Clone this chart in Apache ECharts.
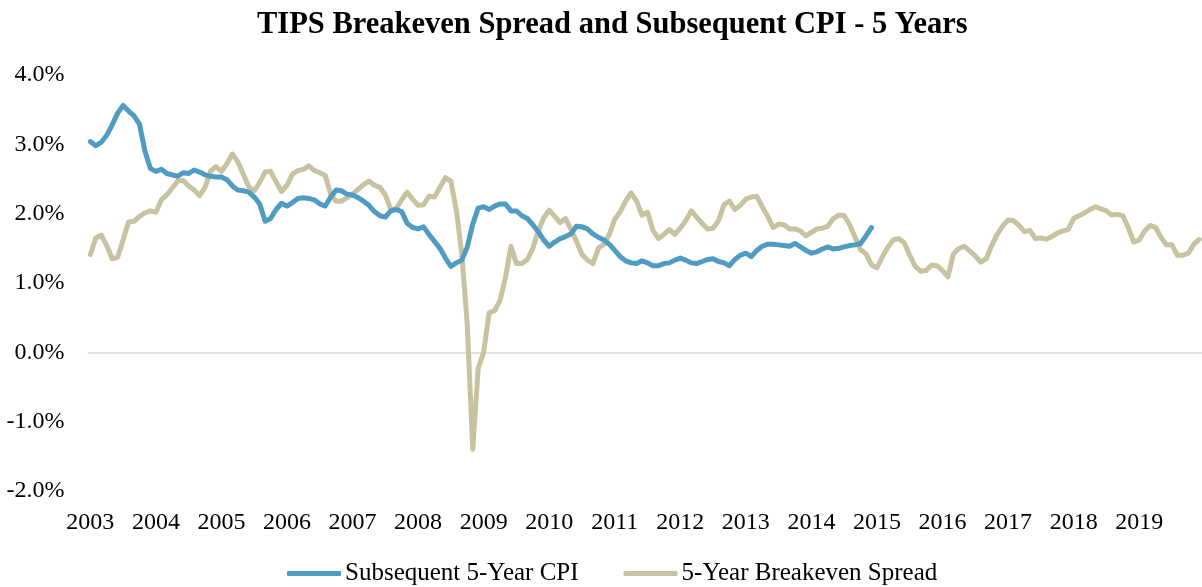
<!DOCTYPE html>
<html>
<head>
<meta charset="utf-8">
<script src="https://cdn.jsdelivr.net/npm/echarts@6/dist/echarts.min.js"></script>
<style>
html,body{margin:0;padding:0;background:#fff;}
#chart{width:1202px;height:587px;}
</style>
</head>
<body>
<div id="chart"></div>
<script>
const titleText = "TIPS Breakeven Spread and Subsequent CPI - 5 Years";
const years = [2003,2004,2005,2006,2007,2008,2009,2010,2011,2012,2013,2014,2015,2016,2017,2018,2019];
const monthNames = ["01","02","03","04","05","06","07","08","09","10","11","12"];
const seriesNames = ["Subsequent 5-Year CPI", "5-Year Breakeven Spread"];
const yTicks = [-2, -1, 0, 1, 2, 3, 4];

// Subsequent 5-Year CPI (%), monthly Jan 2003 - Dec 2014
const cpi = [
3.04,2.98,3.03,3.13,3.28,3.45,3.56,3.48,3.41,3.29,
2.90,2.65,2.61,2.64,2.58,2.56,2.54,2.59,2.58,2.63,
2.60,2.56,2.54,2.53,2.53,2.49,2.40,2.34,2.33,2.31,
2.24,2.14,1.89,1.93,2.06,2.15,2.11,2.16,2.22,2.23,
2.22,2.20,2.14,2.11,2.24,2.34,2.33,2.28,2.27,2.23,
2.18,2.12,2.03,1.97,1.95,2.04,2.06,2.03,1.86,1.80,
1.78,1.81,1.70,1.60,1.50,1.36,1.24,1.29,1.33,1.52,
1.85,2.08,2.10,2.06,2.11,2.14,2.14,2.04,2.04,1.97,
1.93,1.84,1.74,1.62,1.53,1.59,1.64,1.67,1.71,1.82,
1.81,1.78,1.71,1.66,1.62,1.56,1.47,1.38,1.32,1.29,
1.28,1.32,1.29,1.25,1.25,1.28,1.29,1.33,1.36,1.33,
1.29,1.28,1.31,1.34,1.35,1.31,1.29,1.25,1.34,1.40,
1.43,1.38,1.47,1.53,1.56,1.56,1.55,1.54,1.53,1.57,
1.52,1.47,1.43,1.45,1.49,1.52,1.49,1.50,1.52,1.54,
1.55,1.57,1.68,1.80
];

// 5-Year Breakeven Spread (%), monthly Jan 2003 - Dec 2019
const breakeven = [
1.41,1.65,1.69,1.54,1.35,1.37,1.62,1.88,1.89,1.96,
2.01,2.04,2.02,2.20,2.27,2.37,2.47,2.48,2.40,2.34,
2.26,2.38,2.61,2.68,2.61,2.72,2.86,2.75,2.57,2.39,
2.33,2.45,2.60,2.61,2.46,2.32,2.41,2.57,2.62,2.64,
2.69,2.62,2.59,2.55,2.28,2.18,2.18,2.23,2.28,2.35,
2.42,2.47,2.41,2.38,2.27,2.06,2.07,2.20,2.31,2.21,
2.12,2.13,2.25,2.24,2.38,2.52,2.47,2.05,1.42,0.40,
-1.40,-0.23,0.00,0.57,0.60,0.75,1.08,1.53,1.28,1.28,
1.34,1.50,1.75,1.94,2.05,1.96,1.87,1.93,1.77,1.60,
1.41,1.33,1.28,1.50,1.56,1.70,1.92,2.03,2.18,2.30,
2.18,1.98,2.02,1.76,1.64,1.70,1.77,1.70,1.79,1.90,
2.04,1.95,1.86,1.78,1.79,1.90,2.13,2.18,2.06,2.12,
2.21,2.24,2.25,2.10,1.96,1.80,1.85,1.84,1.78,1.78,
1.75,1.68,1.73,1.78,1.79,1.82,1.93,1.98,1.97,1.84,
1.66,1.48,1.42,1.26,1.22,1.38,1.52,1.62,1.64,1.58,
1.40,1.24,1.17,1.18,1.26,1.25,1.18,1.09,1.42,1.50,
1.53,1.46,1.39,1.30,1.35,1.54,1.70,1.82,1.91,1.90,
1.83,1.74,1.76,1.64,1.65,1.63,1.67,1.72,1.75,1.77,
1.93,1.97,2.01,2.06,2.10,2.07,2.04,1.98,1.99,1.97,
1.80,1.59,1.62,1.75,1.83,1.80,1.66,1.55,1.55,1.40,
1.40,1.43,1.56,1.63
];

const categories = [];
years.forEach(y => monthNames.forEach(m => categories.push(y + "-" + m)));

const FONT = "'Liberation Serif', 'Times New Roman', serif";
const COLORS = ['#4F9BC1', '#C7C3A0'];
const chart = echarts.init(document.getElementById('chart'), null, {renderer: 'canvas'});
chart.setOption({
  animation: false,
  backgroundColor: '#ffffff',
  title: {
    text: titleText,
    left: 257, top: 10, padding: 0,
    textStyle: {fontFamily: FONT, fontWeight: 'bold', fontSize: 30.5, color: '#000'}
  },
  legend: {
    data: seriesNames.map(n => ({name: n, icon: 'roundRect'})),
    left: 287, top: 561, padding: 0,
    itemWidth: 54, itemHeight: 5, itemGap: 45,
    textStyle: {fontFamily: FONT, fontSize: 25, color: '#000', padding: [0, 0, 0, -1]}
  },
  grid: {left: 87.6, right: -4.3, top: 75, bottom: 96, containLabel: false},
  xAxis: {
    type: 'category',
    data: categories,
    boundaryGap: true,
    axisLine: {show: false},
    axisTick: {show: false},
    axisLabel: {
      interval: (idx) => idx % 12 === 0,
      formatter: (v) => v.slice(0, 4),
      margin: 20,
      fontFamily: FONT, fontSize: 24, color: '#000'
    },
    splitLine: {show: false}
  },
  yAxis: {
    type: 'value',
    min: yTicks[0], max: yTicks[yTicks.length - 1], interval: 1,
    axisLine: {show: false},
    axisTick: {show: false},
    splitLine: {show: false},
    axisLabel: {
      formatter: (v) => v.toFixed(1) + '%',
      margin: 23,
      fontFamily: FONT, fontSize: 24, color: '#000'
    }
  },
  series: [
    {
      name: seriesNames[0], type: 'line', data: cpi,
      showSymbol: false, symbol: 'none', smooth: false,
      lineStyle: {color: COLORS[0], width: 5, cap: 'round', join: 'round'},
      itemStyle: {color: COLORS[0]},
      z: 3
    },
    {
      name: seriesNames[1], type: 'line', data: breakeven,
      showSymbol: false, symbol: 'none', smooth: false,
      lineStyle: {color: COLORS[1], width: 5, cap: 'round', join: 'round'},
      itemStyle: {color: COLORS[1]},
      z: 2,
      markLine: {
        silent: true, symbol: 'none', animation: false,
        label: {show: false},
        lineStyle: {color: '#D9D9D9', width: 1.5, type: 'solid'},
        data: [{yAxis: 0}],
        z: 1
      }
    }
  ]
});
</script>
</body>
</html>
